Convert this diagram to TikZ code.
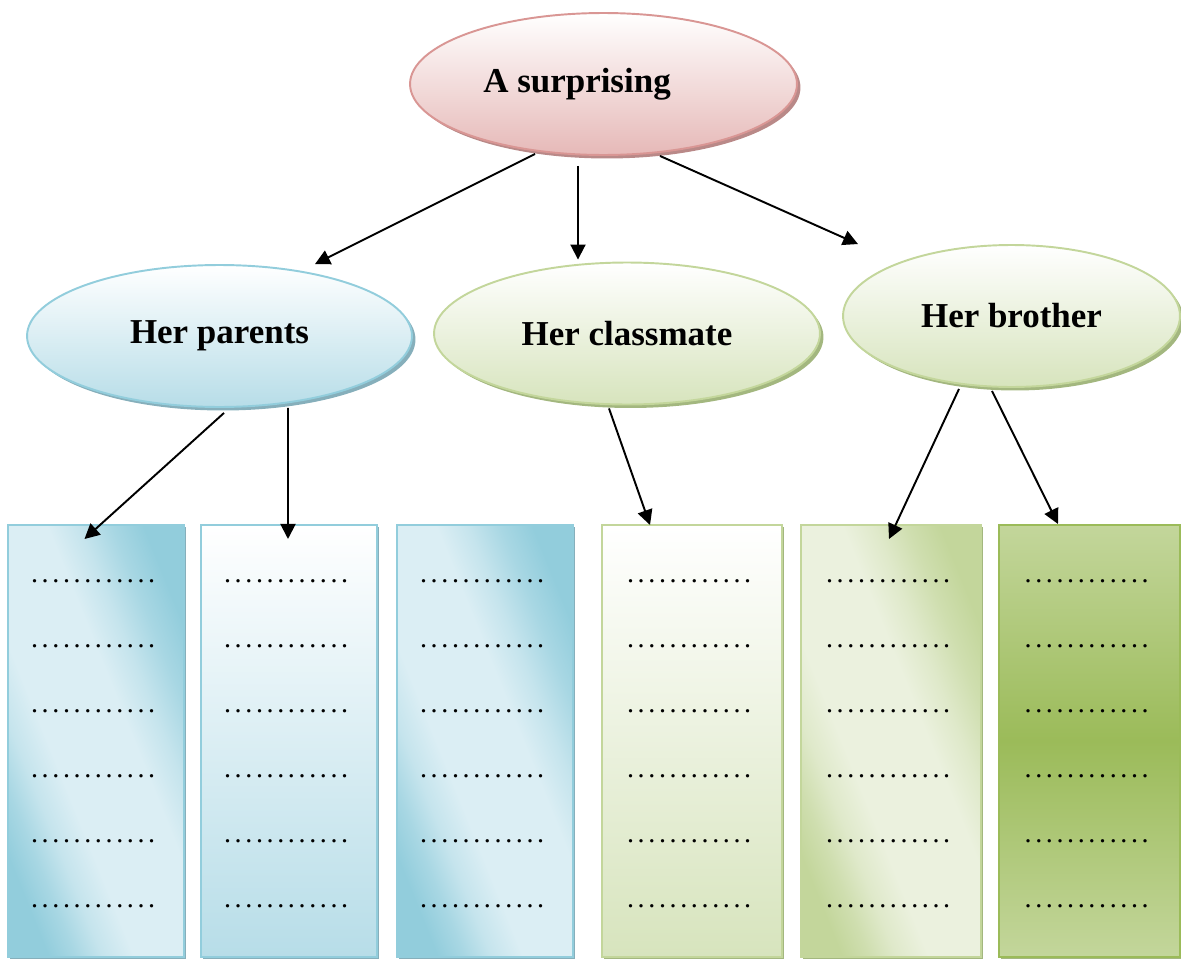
\documentclass[tikz,border=0pt]{standalone}
\usepackage{fontspec}
\setmainfont{Liberation Serif}
\usepackage{tikz}
\usetikzlibrary{calc, shapes.geometric, shadows, arrows.meta}
\definecolor{pinkLine}{HTML}{D99694}
\definecolor{pinkFill}{HTML}{E6B9B8}
\definecolor{pinkShade}{HTML}{B98988}
\definecolor{aquaLine}{HTML}{92CDDC}
\definecolor{aquaFill}{HTML}{B7DDE8}
\definecolor{aquaLight}{HTML}{DBEEF4}
\definecolor{aquaShade}{HTML}{86AFBB}
\definecolor{oliveLine}{HTML}{C3D69B}
\definecolor{oliveFill}{HTML}{D7E4BD}
\definecolor{oliveLight}{HTML}{EBF1DE}
\definecolor{oliveDark}{HTML}{9BBB59}
\definecolor{oliveShade}{HTML}{A3B77F}
\colorlet{aquaA}{aquaLine!70!aquaLight}
\colorlet{aquaB}{aquaLine!30!aquaLight}
\colorlet{oliveA}{oliveLine!70!oliveLight}
\colorlet{oliveB}{oliveLine!30!oliveLight}
\pgfdeclareverticalshading{aquaBand}{100bp}{color(0bp)=(aquaLine); color(25bp)=(aquaLine); color(30bp)=(aquaA); color(35bp)=(aquaB); color(41bp)=(aquaLight); color(57bp)=(aquaLight); color(63bp)=(aquaB); color(69bp)=(aquaA); color(75bp)=(aquaLine); color(100bp)=(aquaLine)}
\pgfdeclareverticalshading{oliveBand}{100bp}{color(0bp)=(oliveLine); color(25bp)=(oliveLine); color(30bp)=(oliveA); color(35bp)=(oliveB); color(41bp)=(oliveLight); color(57bp)=(oliveLight); color(63bp)=(oliveB); color(69bp)=(oliveA); color(75bp)=(oliveLine); color(100bp)=(oliveLine)}
\newcommand\dotline{\foreach \k in {1,...,12}{.\kern2.06pt}}

\begin{document}
\begin{tikzpicture}[x=0.02cm, y=-0.02cm,
		topic/.style={ellipse, inner sep=0pt, line width=1.1pt, minimum height=2.84cm, font=\fontsize{19.9}{24}\selectfont\bfseries},
		pinkOval/.style={draw=pinkLine, top color=white, bottom color=pinkFill, general shadow={fill=pinkShade, shadow xshift=0.07cm, shadow yshift=-0.07cm}},
		aquaOval/.style={draw=aquaLine, top color=white, bottom color=aquaFill, general shadow={fill=aquaShade, shadow xshift=0.07cm, shadow yshift=-0.07cm}},
		oliveOval/.style={draw=oliveLine, top color=white, bottom color=oliveFill, general shadow={fill=oliveShade, shadow xshift=0.07cm, shadow yshift=-0.07cm}},
		column/.style={rectangle, inner sep=0pt, line width=1.2pt, minimum height=8.64cm},
		aquaDiag/.style={draw=aquaLine, shade, shading=aquaBand, shading angle=-68, general shadow={fill=aquaShade, shadow xshift=0.04cm, shadow yshift=-0.04cm}},
		aquaVert/.style={draw=aquaLine, top color=white, bottom color=aquaFill, general shadow={fill=aquaShade, shadow xshift=0.04cm, shadow yshift=-0.04cm}},
		oliveDiag/.style={draw=oliveLine, shade, shading=oliveBand, shading angle=-68, general shadow={fill=oliveShade, shadow xshift=0.04cm, shadow yshift=-0.04cm}},
		oliveVert/.style={draw=oliveLine, top color=white, bottom color=oliveFill, general shadow={fill=oliveShade, shadow xshift=0.04cm, shadow yshift=-0.04cm}},
		oliveMid/.style={draw=oliveDark, top color=oliveLine, bottom color=oliveLine, middle color=oliveDark, general shadow={fill=oliveShade, shadow xshift=0.04cm, shadow yshift=-0.04cm}},
		dotrow/.style={anchor=base, inner sep=0pt, font=\fontsize{16}{16}\selectfont},
		link/.style={-{Triangle[length=0.3cm, width=0.3cm]}, line width=1.1pt}]
	\useasboundingbox (0,0) rectangle (1181,960);
	% ovals
	\node[topic, pinkOval, minimum width=7.74cm] (surp) at (603.5,84) {A surprising\hspace*{1.06cm}};
	\node[topic, aquaOval, minimum width=7.7cm] (parents) at (219.5,336) {Her parents};
	\node[topic, oliveOval, minimum width=7.72cm] (classmate) at (627,333.5) {Her classmate};
	\node[topic, oliveOval, minimum width=6.74cm] (brother) at (1011.5,316) {Her brother};
	% columns with dotted lines
	\foreach \x/\w/\nm/\sty in {
		96/3.52/b1/aquaDiag,
		289/3.52/b2/aquaVert,
		485/3.52/b3/aquaDiag,
		692/3.6/b4/oliveVert,
		891/3.6/b5/oliveDiag,
		1089.5/3.62/b6/oliveMid}{
		\node[column, \sty, minimum width=\w cm] (\nm) at (\x,741) {};
		\foreach \r in {0,...,5}
		{\node[dotrow] (\nm-\r) at ([shift={(-1,58.5+65*\r)}]\nm.north) {\dotline};}
	}
	% arrows
	\draw[link] ([shift={(-68.5,-2)}]surp.south) -- ([shift={(95.5,0)}]parents.north);
	\draw[link] ([shift={(-25.5,10)}]surp.south) -- ([shift={(-49,-2)}]classmate.north);
	\draw[link] ([shift={(56.5,0)}]surp.south) -- ([shift={(-153.5,0)}]brother.north);
	\draw[link] ([shift={(4.5,5)}]parents.south) -- ([shift={(-11.5,15)}]b1.north);
	\draw[link] ([shift={(68.5,0)}]parents.south) -- ([shift={(-1,15)}]b2.north);
	\draw[link] ([shift={(-18,3)}]classmate.south) -- ([shift={(-42,1)}]b4.north);
	\draw[link] ([shift={(-52.5,1)}]brother.south) -- ([shift={(-2,15)}]b5.north);
	\draw[link] ([shift={(-19.5,3)}]brother.south) -- ([shift={(-31.5,0)}]b6.north);
\end{tikzpicture}
\end{document}
